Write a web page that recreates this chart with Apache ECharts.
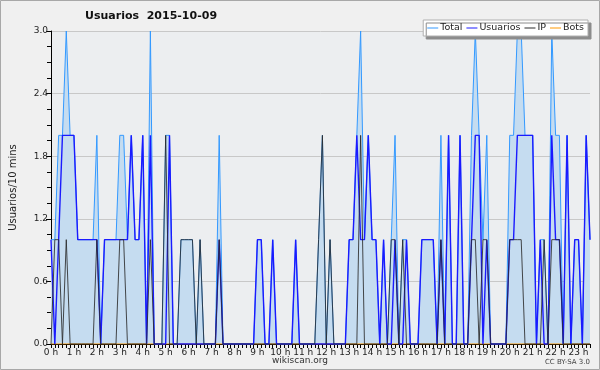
<!DOCTYPE html>
<html>
<head>
<meta charset="utf-8">
<script src="https://cdn.jsdelivr.net/npm/echarts@6/dist/echarts.min.js"></script>
<style>
html, body { margin: 0; padding: 0; background: #f0f0f0; }
#chart { width: 600px; height: 370px; }
</style>
</head>
<body>
<div id="chart"></div>
<script>
// one slot every 10 minutes, labels shown on the hour
var hourLabels = ['0 h', '1 h', '2 h', '3 h', '4 h', '5 h', '6 h', '7 h', '8 h', '9 h', '10 h', '11 h',
    '12 h', '13 h', '14 h', '15 h', '16 h', '17 h', '18 h', '19 h', '20 h', '21 h', '22 h', '23 h']
var slots = []
for (var i = 0; i < 142; i++) {
    slots.push(Math.floor(i / 6) + ':' + (i % 6) + '0')
}

var total = [
    1, 1, 2, 2, 3, 2, 2, 1, 1, 1, 1, 1,
    2, 0, 1, 1, 1, 1, 2, 2, 1, 2, 1, 1,
    2, 0, 3, 0, 0, 0, 2, 2, 0, 0, 1, 1,
    1, 1, 0, 1, 0, 0, 0, 0, 2, 0, 0, 0,
    0, 0, 0, 0, 0, 0, 1, 1, 0, 0, 1, 0,
    0, 0, 0, 0, 1, 0, 0, 0, 0, 0, 1, 2,
    0, 1, 0, 0, 0, 0, 1, 1, 2, 3, 1, 2,
    1, 1, 0, 1, 0, 1, 2, 0, 1, 1, 0, 0,
    0, 1, 1, 1, 1, 0, 2, 0, 2, 0, 0, 2,
    0, 0, 2, 3, 2, 1, 2, 0, 0, 0, 0, 0,
    2, 2, 3, 3, 2, 2, 2, 0, 1, 1, 0, 3,
    2, 2, 0, 2, 0, 1, 1, 0, 2, 1
]
var usuarios = [
    1, 0, 1, 2, 2, 2, 2, 1, 1, 1, 1, 1,
    1, 0, 1, 1, 1, 1, 1, 1, 1, 2, 1, 1,
    2, 0, 2, 0, 0, 0, 0, 2, 0, 0, 0, 0,
    0, 0, 0, 0, 0, 0, 0, 0, 1, 0, 0, 0,
    0, 0, 0, 0, 0, 0, 1, 1, 0, 0, 1, 0,
    0, 0, 0, 0, 1, 0, 0, 0, 0, 0, 0, 0,
    0, 0, 0, 0, 0, 0, 1, 1, 2, 1, 1, 2,
    1, 1, 0, 1, 0, 0, 1, 0, 0, 1, 0, 0,
    0, 1, 1, 1, 1, 0, 1, 0, 2, 0, 0, 2,
    0, 0, 1, 2, 2, 0, 1, 0, 0, 0, 0, 0,
    1, 1, 2, 2, 2, 2, 2, 0, 1, 0, 0, 2,
    1, 1, 0, 2, 0, 1, 1, 0, 2, 1
]
var ip = [
    0, 1, 1, 0, 1, 0, 0, 0, 0, 0, 0, 0,
    1, 0, 0, 0, 0, 0, 1, 1, 0, 0, 0, 0,
    0, 0, 1, 0, 0, 0, 2, 0, 0, 0, 1, 1,
    1, 1, 0, 1, 0, 0, 0, 0, 1, 0, 0, 0,
    0, 0, 0, 0, 0, 0, 0, 0, 0, 0, 0, 0,
    0, 0, 0, 0, 0, 0, 0, 0, 0, 0, 1, 2,
    0, 1, 0, 0, 0, 0, 0, 0, 0, 2, 0, 0,
    0, 0, 0, 0, 0, 1, 1, 0, 1, 0, 0, 0,
    0, 0, 0, 0, 0, 0, 1, 0, 0, 0, 0, 0,
    0, 0, 1, 1, 0, 1, 1, 0, 0, 0, 0, 0,
    1, 1, 1, 1, 0, 0, 0, 0, 0, 1, 0, 1,
    1, 1, 0, 0, 0, 0, 0, 0, 0, 0
]
var bots = [
    0, 0, 0, 0, 0, 0, 0, 0, 0, 0, 0, 0,
    0, 0, 0, 0, 0, 0, 0, 0, 0, 0, 0, 0,
    0, 0, 0, 0, 0, 0, 0, 0, 0, 0, 0, 0,
    0, 0, 0, 0, 0, 0, 0, 0, 0, 0, 0, 0,
    0, 0, 0, 0, 0, 0, 0, 0, 0, 0, 0, 0,
    0, 0, 0, 0, 0, 0, 0, 0, 0, 0, 0, 0,
    0, 0, 0, 0, 0, 0, 0, 0, 0, 0, 0, 0,
    0, 0, 0, 0, 0, 0, 0, 0, 0, 0, 0, 0,
    0, 0, 0, 0, 0, 0, 0, 0, 0, 0, 0, 0,
    0, 0, 0, 0, 0, 0, 0, 0, 0, 0, 0, 0,
    0, 0, 0, 0, 0, 0, 0, 0, 0, 0, 0, 0,
    0, 0, 0, 0, 0, 0, 0, 0, 0, 0
]

var font = 'DejaVu Sans'
var chart = echarts.init(document.getElementById('chart'))
var option = {
    animation: false,
    backgroundColor: '#f0f0f0',
    title: {
        text: 'Usuarios  2015-10-09',
        left: 85,
        top: 11,
        padding: 0,
        textStyle: {fontFamily: font, fontSize: 11, fontWeight: 'bold', color: '#111'}
    },
    legend: {
        data: ['Total', 'Usuarios', 'IP', 'Bots'],
        icon: 'rect',
        right: 12,
        top: 20,
        itemWidth: 11,
        itemHeight: 1,
        itemGap: 4,
        padding: [3, 4, 3, 4],
        backgroundColor: '#ffffff',
        borderColor: '#b0b0b0',
        borderWidth: 1,
        shadowColor: '#8c8c8c',
        shadowOffsetX: 3,
        shadowOffsetY: 3,
        textStyle: {fontFamily: font, fontSize: 9.5, color: '#222', padding: [0, 0, 0, -3]}
    },
    grid: {
        left: 46,
        right: 10,
        top: 31,
        bottom: 26,
        show: true,
        backgroundColor: '#eceef0',
        borderWidth: 0
    },
    xAxis: {
        type: 'category',
        boundaryGap: false,
        data: slots,
        axisLine: {lineStyle: {color: '#000'}},
        axisTick: {interval: 0, length: 4, lineStyle: {color: '#000'}},
        axisLabel: {
            interval: function (idx) { return idx % 6 === 0 },
            formatter: function (v, idx) { return hourLabels[Math.floor(idx / 6)] },
            fontFamily: font, fontSize: 9, color: '#222', margin: 4
        },
        splitLine: {show: false}
    },
    yAxis: {
        type: 'value',
        min: 0,
        max: 3,
        interval: 0.6,
        name: 'Usuarios/10 mins',
        nameLocation: 'middle',
        nameRotate: 90,
        nameGap: 33,
        nameTextStyle: {fontFamily: font, fontSize: 10, color: '#222'},
        axisLine: {show: true, lineStyle: {color: '#000'}},
        axisTick: {show: true, length: 5, lineStyle: {color: '#000'}},
        minorTick: {show: true, splitNumber: 4, length: 4, lineStyle: {color: '#000'}},
        axisLabel: {
            formatter: function (v) { return v.toFixed(1) },
            fontFamily: font, fontSize: 9, color: '#222', margin: 3
        },
        splitLine: {lineStyle: {color: '#c8c8c8'}}
    },
    series: [
        {
            name: 'Bots',
            type: 'line',
            data: bots,
            symbol: 'none',
            lineStyle: {color: '#ff9900', width: 1},
            itemStyle: {color: '#ff9900'}
        },
        {
            name: 'Total',
            type: 'line',
            data: total,
            symbol: 'none',
            lineStyle: {color: '#3399ff', width: 1},
            itemStyle: {color: '#3399ff'},
            areaStyle: {color: '#c5dcf0', opacity: 1}
        },
        {
            name: 'Usuarios',
            type: 'line',
            data: usuarios,
            symbol: 'none',
            lineStyle: {color: '#1a1aff', width: 1.4},
            itemStyle: {color: '#1a1aff'}
        },
        {
            name: 'IP',
            type: 'line',
            data: ip,
            symbol: 'none',
            lineStyle: {color: '#2a2a2a', width: 1, opacity: 0.85},
            itemStyle: {color: '#2a2a2a'}
        }
    ],
    graphic: [
        {
            type: 'rect',
            shape: {x: 0.5, y: 0.5, width: 599, height: 369},
            style: {fill: 'none', stroke: '#a8a8a8', lineWidth: 1},
            silent: true
        },
        {
            type: 'text',
            left: 'center',
            top: 356,
            style: {text: 'wikiscan.org', fontFamily: font, fontSize: 9, fill: '#333'}
        },
        {
            type: 'text',
            right: 10,
            top: 359,
            style: {text: 'CC BY-SA 3.0', fontFamily: font, fontSize: 7, fill: '#444'}
        }
    ]
}
chart.setOption(option)
</script>
</body>
</html>
